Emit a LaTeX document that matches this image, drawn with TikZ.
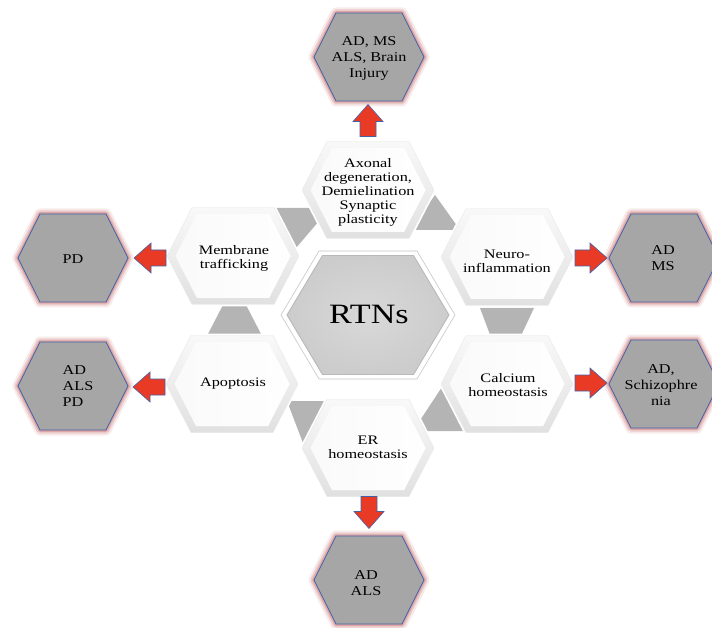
\documentclass[tikz,border=0pt]{standalone}
\usepackage{fontspec}
\setmainfont{Liberation Serif}
\definecolor{dgray}{RGB}{166,166,166}
\definecolor{dblue}{RGB}{68,98,168}
\definecolor{glowc}{RGB}{200,110,110}
\definecolor{ared}{RGB}{232,58,36}
\definecolor{tgray}{RGB}{180,180,180}
\newcommand\hexat[6][]{\path[#1] ({#2-#4},{#3}) -- ({#2-#6},{#3-#5}) -- ({#2+#6},{#3-#5}) -- ({#2+#4},{#3}) -- ({#2+#6},{#3+#5}) -- ({#2-#6},{#3+#5}) -- cycle;}
\newcommand\dhex[2]{%
  \hexat[draw=glowc,line width=11pt,opacity=0.14,line join=round]{#1}{#2}{55}{44}{33}
  \hexat[draw=glowc,line width=7pt,opacity=0.25,line join=round]{#1}{#2}{55}{44}{33}
  \hexat[draw=glowc,line width=3.5pt,opacity=0.40,line join=round]{#1}{#2}{55}{44}{33}
  \hexat[fill=dgray,draw=dblue,line width=0.8pt]{#1}{#2}{55}{44}{33}}
\newcommand\lhex[2]{%
  \hexat[draw=white,line width=4pt,line join=round]{#1}{#2}{66}{48.5}{41}
  \hexat[top color=gray!5,bottom color=gray!24,draw=gray!18,line width=0.4pt]{#1}{#2}{66}{48.5}{41}
  \hexat[left color=gray!10,right color=white]{#1}{#2}{57.5}{42}{36}
  \hexat[top color=white,bottom color=white,opacity=0.6]{#1}{#2}{57.5}{42}{36}}
\newcommand\barrow[3]{\begin{scope}[shift={(#1,#2)},rotate=#3]
  \path[fill=ared,draw=dblue,line width=0.6pt,line join=miter] (-16,-8) -- (-1,-8) -- (-1,-15) -- (16,0) -- (-1,15) -- (-1,8) -- (-16,8) -- cycle;
  \end{scope}}
\tikzset{
  dtext/.style={align=center,font=\fontsize{13.5}{16}\selectfont,inner sep=0pt,xscale=1.2},
  ltext/.style={align=center,font=\fontsize{13}{14}\selectfont,inner sep=0pt,xscale=1.25},
  tri/.style={fill=tgray}
}
\begin{document}
\begin{tikzpicture}[x=1pt,y=-1pt]
\useasboundingbox (0,0) rectangle (712,628);
\fill[white] (0,0) rectangle (712,628);
% connector triangles between neighbouring process hexagons
\path[tri] (435,195) -- (460,230) -- (410,230) -- cycle;
\path[tri] (480,308) -- (534,308) -- (519,340) -- (492,340) -- cycle;
\path[tri] (442,387) -- (472,431) -- (413,431) -- cycle;
\path[tri] (287,401) -- (336,401) -- (303,443) -- cycle;
\path[tri] (224,303) -- (245,303) -- (261,334) -- (208,334) -- cycle;
\path[tri] (268,208) -- (330,208) -- (296,248) -- cycle;
% central hexagon
\hexat[fill=white,draw=gray!45,line width=0.6pt]{368}{315}{87}{64}{49}
\hexat[inner color=gray!30,outer color=gray!40,draw=gray!55,line width=0.9pt]{368}{315}{81}{59.5}{45.5}
\node[font=\fontsize{28}{32}\selectfont,inner sep=0pt,xscale=1.22] (rtn) at (369,314) {RTNs};
% process hexagons
\lhex{368}{190}
\lhex{507}{257}
\lhex{507}{384}
\lhex{368}{448}
\lhex{232}{384}
\lhex{233}{256}
\node[ltext] (p1) at (368,192) {Axonal\\degeneration,\\Demielination\\Synaptic\\plasticity};
\node[ltext] (p2) at (507,261) {Neuro-\\inflammation};
\node[ltext] (p3) at (508,385) {Calcium\\homeostasis};
\node[ltext] (p4) at (368,447) {ER\\homeostasis};
\node[ltext] (p5) at (233,384) {Apoptosis};
\node[ltext] (p6) at (234,258) {Membrane\\trafficking};
% disease hexagons
\dhex{369}{57}
\dhex{664}{258}
\dhex{664}{384}
\dhex{369}{580}
\dhex{73}{386}
\dhex{73}{258}
\node[dtext] (d1) at (369,58) {AD, MS\\ALS, Brain\\Injury};
\node[dtext] (d2) at (663,258) {AD\\MS};
\node[dtext] (d3) at (661,385) {AD,\\Schizophre\\nia};
\node[dtext] (d4) at (366,583) {AD\\ALS};
\node[dtext,align=left] (d5) at (78,386) {AD\\ALS\\PD};
\node[dtext] (d6) at (73,259) {PD};
% block arrows
\barrow{368}{120.5}{90}
\barrow{591}{258}{0}
\barrow{591}{383}{0}
\barrow{369}{512.5}{-90}
\barrow{149}{387}{180}
\barrow{150}{258}{180}
\end{tikzpicture}
\end{document}
